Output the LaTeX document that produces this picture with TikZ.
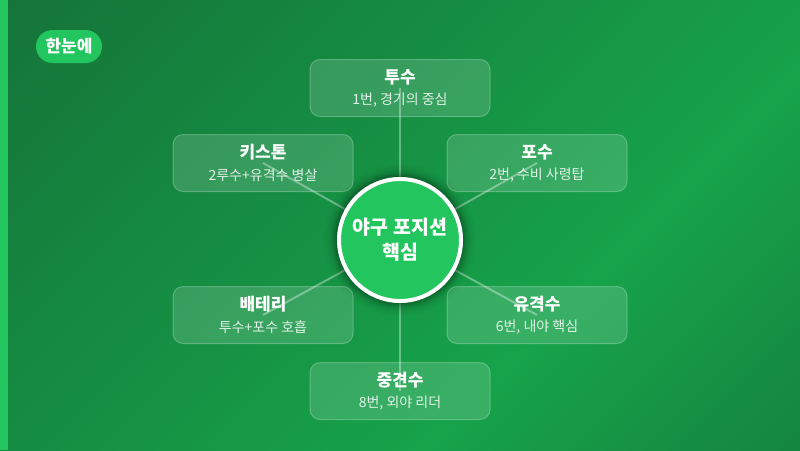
\documentclass[tikz,border=0pt]{standalone}
\usepackage{fontspec}
\setmainfont{Noto Sans CJK KR}
\usetikzlibrary{shapes.misc}
\definecolor{bgA}{HTML}{14532D}
\definecolor{bgB}{HTML}{16A34A}
\definecolor{accent}{HTML}{22C55E}
\pgfdeclarehorizontalshading{bgsh}{100bp}{color(0bp)=(bgA); color(25bp)=(bgA); color(55bp)=(bgB); color(75bp)=(bgA); color(100bp)=(bgA)}
\tikzset{
  card/.style={draw=white, draw opacity=0.25, fill=white, fill opacity=0.15, line width=1pt,
    rounded corners=10pt, minimum width=180pt, minimum height=57pt, inner sep=0pt},
  conn/.style={draw=white, draw opacity=0.35, line width=2pt},
  ttl/.style={text=white, font=\bfseries\fontsize{17}{20}\selectfont, inner sep=0pt},
  sub/.style={text=white, text opacity=0.85, font=\fontsize{14}{17}\selectfont, inner sep=0pt},
  hub/.style={circle, fill=accent, draw=white, line width=4pt, minimum size=122pt, inner sep=0pt,
    text=white, font=\bfseries\fontsize{19.5}{25}\selectfont, align=center},
  badge/.style={rounded rectangle, fill=accent, text=white, minimum width=66pt, minimum height=33pt,
    inner sep=0pt, font=\bfseries\fontsize{17}{20}\selectfont}
}
\begin{document}
\begin{tikzpicture}[x=1pt,y=-1pt]
\useasboundingbox (0,0) rectangle (800,450);
\begin{scope}
\clip (0,0) rectangle (800,450);
\shade[shading=bgsh, shading angle=-45] (-484,-659) rectangle (1284,1109);
\end{scope}
\fill[accent] (0,0) rectangle (8,450);
\node[badge] (bd) at (69,46.5) {한눈에};
% cards
\node[card] (p1) at (400,88) {};
\node[card] (p2) at (263,163) {};
\node[card] (p3) at (537,163) {};
\node[card] (p4) at (263,315) {};
\node[card] (p5) at (537,315) {};
\node[card] (p6) at (400,391) {};
\coordinate (c) at (400,240);
\foreach \p in {p1,p2,p3,p4,p5,p6} \draw[conn] (c) -- (\p.center);
% shadow
\foreach \r/\o in {64/0.12,66/0.09,68/0.07,70/0.05,73/0.035,76/0.02}
  \fill[black, opacity=\o] (c) circle[radius=\r];
\node[hub] (hub) at (c) {야구 포지션\\핵심};
% texts
\node[ttl] (t1) at (400,77) {투수};
\node[sub] (s1) at (400,100) {1번, 경기의 중심};
\node[ttl] (t2) at (263,152) {키스톤};
\node[sub] (s2) at (263,175) {2루수+유격수 병살};
\node[ttl] (t3) at (537,152) {포수};
\node[sub] (s3) at (537,175) {2번, 수비 사령탑};
\node[ttl] (t4) at (263,304) {배테리};
\node[sub] (s4) at (263,327) {투수+포수 호흡};
\node[ttl] (t5) at (537,304) {유격수};
\node[sub] (s5) at (537,327) {6번, 내야 핵심};
\node[ttl] (t6) at (400,380) {중견수};
\node[sub] (s6) at (400,403) {8번, 외야 리더};
\end{tikzpicture}
\end{document}
